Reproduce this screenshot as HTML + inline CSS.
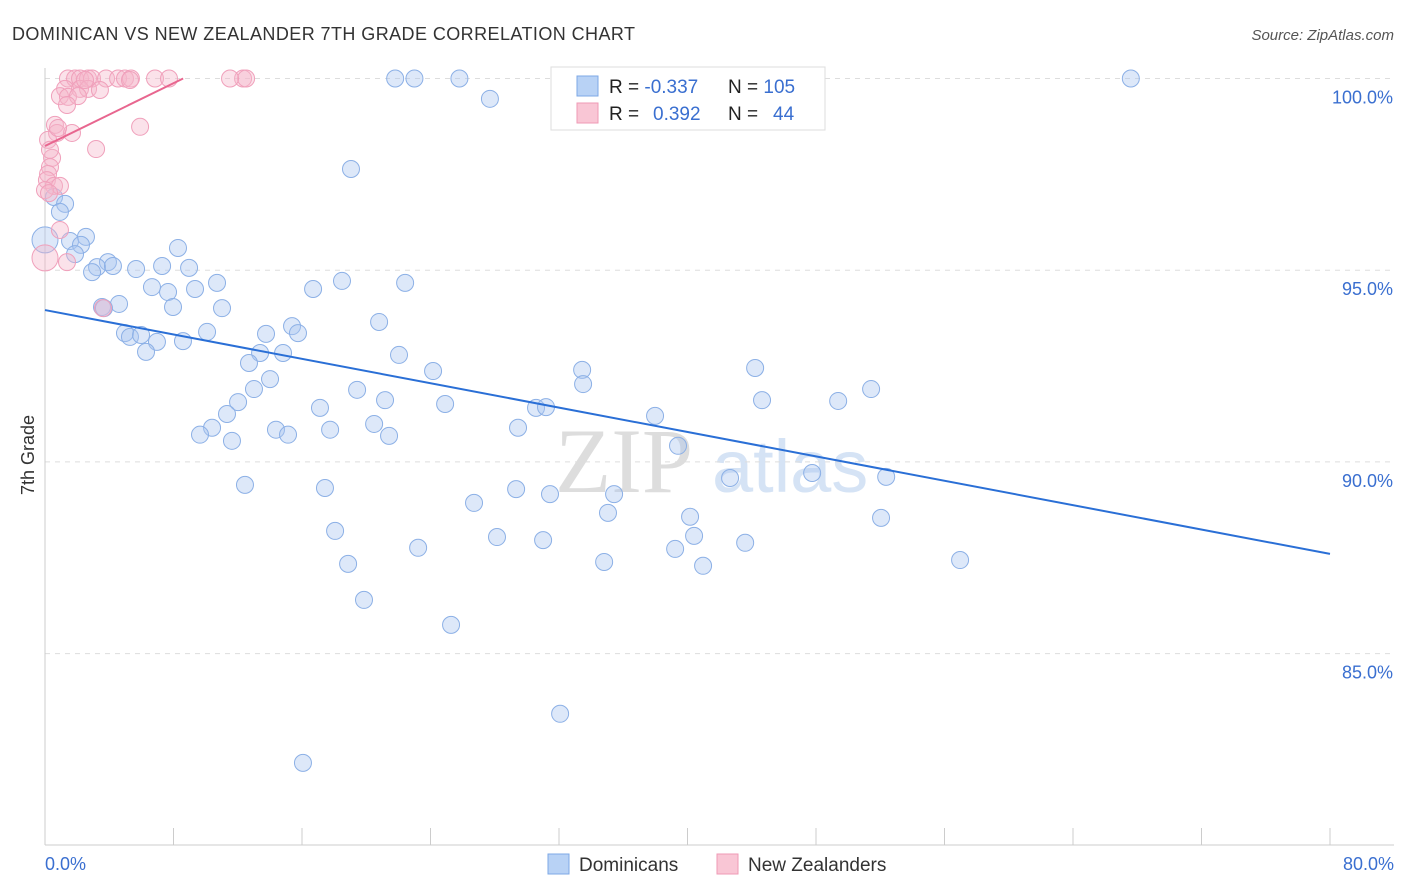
<!DOCTYPE html>
<html><head><meta charset="utf-8"><style>
body{margin:0;background:#fff;font-family:"Liberation Sans",sans-serif}
svg{display:block}
</style></head><body>
<svg id="chart" width="1406" height="892">
<text x="12" y="40" font-size="18" fill="#333" textLength="623">DOMINICAN VS NEW ZEALANDER 7TH GRADE CORRELATION CHART</text>
<text x="1394" y="40" font-size="15" fill="#555" font-style="italic" text-anchor="end">Source: ZipAtlas.com</text>
<text x="34" y="455" font-size="18" fill="#333" transform="rotate(-90 34 455)" text-anchor="middle">7th Grade</text>
<text x="555" y="492" font-size="92" fill="#ddd" font-family="Liberation Serif,serif">ZIP</text>
<text x="712" y="492" font-size="74" fill="#d5e3f5">atlas</text>
<g id="grid"></g><g id="axes"></g><g id="pts"></g><g id="lines"></g>
<g>
<rect x="551" y="67" width="274" height="63" fill="#fff" stroke="#ddd"/>
<rect x="577" y="76" width="21" height="20" fill="#b8d2f5" stroke="#7ea8e6"/>
<rect x="577" y="103" width="21" height="20" fill="#f9c6d5" stroke="#ef9ab5"/>
<text x="609" y="93" font-size="19" fill="#222">R = <tspan fill="#3a6fd0">-0.337</tspan></text>
<text x="728" y="93" font-size="19" fill="#222">N = <tspan fill="#3a6fd0">105</tspan></text>
<text x="609" y="120" font-size="19" fill="#222">R = <tspan fill="#3a6fd0" x="653">0.392</tspan></text>
<text x="728" y="120" font-size="19" fill="#222">N = <tspan fill="#3a6fd0" x="773">44</tspan></text>
</g>
<g>
<rect x="548" y="854" width="21" height="20" fill="#b8d2f5" stroke="#7ea8e6"/>
<text x="579" y="871" font-size="19" fill="#333">Dominicans</text>
<rect x="717" y="854" width="21" height="20" fill="#f9c6d5" stroke="#ef9ab5"/>
<text x="748" y="871" font-size="19" fill="#333">New Zealanders</text>
</g>
</svg>
<script>
const blueX=[32.5,21.8,23.0,25.8,67.6,27.7,19.05,0.56,1.25,0.93,0,1.56,2.55,2.24,1.87,3.92,3.24,2.93,4.23,5.67,7.29,8.28,8.97,6.66,7.66,9.34,10.71,7.97,11.02,16.69,18.49,22.42,3.55,4.61,4.98,5.29,5.98,6.97,6.29,8.59,10.09,13.76,15.38,15.75,13.39,14.82,12.70,20.80,22.04,24.16,33.44,33.50,44.21,14.01,13.01,12.02,11.33,19.43,21.17,17.12,24.91,30.57,31.19,37.98,44.64,49.38,51.43,10.40,9.65,11.64,14.38,15.13,17.75,20.49,21.42,29.45,39.41,12.45,17.43,26.71,29.33,31.44,35.43,35.05,42.65,47.76,52.37,40.16,52.05,18.06,28.14,31.01,40.41,43.59,23.23,18.87,34.81,39.23,40.97,56.97,19.86,25.28,32.07,16.06,3.67];
const blueY=[100,100,100,100,100,99.47,97.64,96.91,96.73,96.52,95.79,95.76,95.87,95.66,95.42,95.21,95.08,94.95,95.11,95.03,95.11,95.58,95.06,94.56,94.43,94.51,94.67,94.04,94.01,94.51,94.72,94.67,94.04,94.12,93.36,93.26,93.31,93.13,92.87,93.15,93.39,93.34,93.54,93.36,92.84,92.84,92.58,93.65,92.79,92.37,92.40,92.03,92.45,92.16,91.90,91.56,91.25,91.88,91.61,91.41,91.51,91.41,91.43,91.20,91.61,91.59,91.90,90.89,90.71,90.55,90.84,90.71,90.84,90.99,90.68,90.89,90.42,89.40,89.32,88.93,89.29,89.16,89.16,88.67,89.58,89.71,89.61,88.57,88.54,88.20,88.04,87.96,88.07,87.89,87.76,87.34,87.39,87.73,87.29,87.44,86.40,85.75,83.43,82.15,94.01];
const pinkX=[1.43,1.87,2.18,2.68,2.93,3.80,4.55,4.98,5.35,6.85,7.72,12.33,12.52,1.25,2.18,2.68,0.93,1.43,2.05,1.37,0.62,0.75,1.68,0.19,3.18,5.92,0.44,0.31,0.19,0.12,0.56,0.93,0,0.93,1.37,0,3.61,0.81,0.31,2.49,3.42,11.52,5.29,0.25];
const pinkY=[100,100,100,100,100,100,100,100,100,100,100,100,100,99.73,99.73,99.73,99.54,99.52,99.54,99.31,98.79,98.58,98.58,98.40,98.16,98.74,97.93,97.69,97.51,97.35,97.20,97.20,97.09,96.05,95.21,95.32,94.01,98.71,98.14,99.96,99.70,100,99.96,97.01];
const yTicks=[100,95,90,85];
const yTickLabels=["100.0%","95.0%","90.0%","85.0%"];
const xTicks=[0,8,16,24,32,40,48,56,64,72,80];
const blueTrend=[93.96,87.6];
const pinkTrend=[98.24,100];
const pinkTrendEndX=8.6;

const NS="http://www.w3.org/2000/svg";
const sx=v=>45+v*(1285/80);
const sy=v=>78.5+(100-v)*38.34;
function mk(tag,attrs,parent){const e=document.createElementNS(NS,tag);for(const k in attrs)e.setAttribute(k,attrs[k]);document.getElementById(parent).appendChild(e);return e;}

yTicks.forEach((t,i)=>{
  const l=mk('line',{x1:45,x2:1394,y1:sy(t),y2:sy(t),stroke:'#ddd','stroke-dasharray':'5,5'},'grid');
  
  
  const tx=mk('text',{x:1393,y:sy(t)+25,'font-size':18,fill:'#3a6fd0','text-anchor':'end'},'grid');
  tx.textContent=yTickLabels[i];
  
  
});
const ax=mk('line',{x1:45,x2:1394,y1:845,y2:845,stroke:'#ccc'},'axes');


const ay=mk('line',{x1:45,x2:45,y1:68,y2:845,stroke:'#ccc'},'axes');


xTicks.forEach(t=>{
  const l=mk('line',{x1:sx(t),x2:sx(t),y1:828,y2:845,stroke:'#ccc'},'axes');
  
  
});
const xl0=mk('text',{x:45,y:870,'font-size':18,fill:'#3a6fd0'},'axes');xl0.textContent='0.0%';


const xl1=mk('text',{x:1394,y:870,'font-size':18,fill:'#3a6fd0','text-anchor':'end'},'axes');xl1.textContent='80.0%';



blueX.forEach((x,i)=>{
  const big=(x===0);
  const c=mk('circle',{cx:sx(x),cy:sy(blueY[i]),r:big?13:8.5,fill:'rgba(170,198,240,0.4)',stroke:'#8cb0e6','stroke-width':1},'pts');
  
  
});
pinkX.forEach((x,i)=>{
  const big=(x===0&&pinkY[i]<96);
  const c=mk('circle',{cx:sx(x),cy:sy(pinkY[i]),r:big?13:8.5,fill:'rgba(246,182,203,0.4)',stroke:'#f0a0bb','stroke-width':1},'pts');
  
  
});
const bl=mk('line',{x1:sx(0),y1:sy(blueTrend[0]),x2:sx(80),y2:sy(blueTrend[1]),stroke:'#2a6fd6','stroke-width':2},'lines');


const pl=mk('line',{x1:sx(0),y1:sy(pinkTrend[0]),x2:sx(pinkTrendEndX),y2:sy(pinkTrend[1]),stroke:'#e8668f','stroke-width':2},'lines');


</script>
</body></html>
